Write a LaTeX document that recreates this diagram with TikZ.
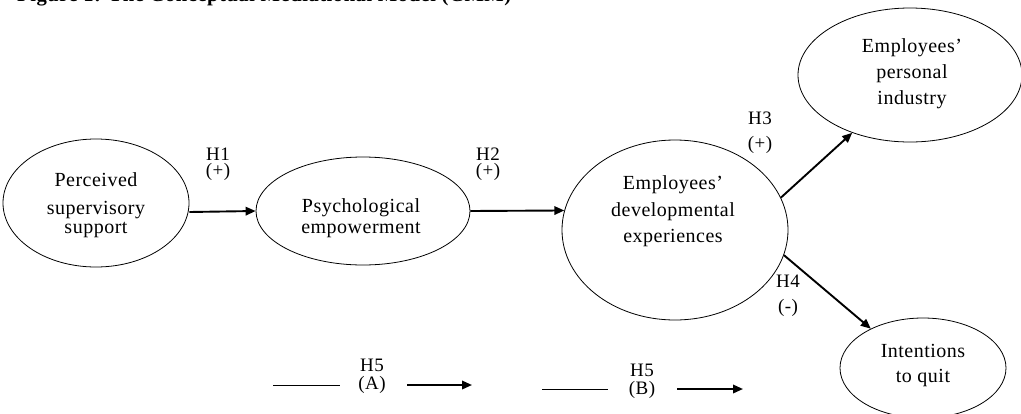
\documentclass[tikz,border=0pt]{standalone}
\usepackage{fontspec}
\setmainfont{Liberation Serif}[LetterSpace=2.5]
\usetikzlibrary{shapes.geometric,arrows.meta}
\newcommand\myfs[2]{\fontsize{#1}{#2}\selectfont\lineskiplimit=-100pt\relax}
\begin{document}
\begin{tikzpicture}[x=1pt,y=-1pt,
  ell/.style={draw,ellipse,line width=0.8pt,inner sep=0pt},
  txt/.style={align=center,font=\myfs{20}{26}},
  lab/.style={align=center,font=\myfs{19}{#1}},
  arr/.style={line width=1.9pt,-{Triangle[length=10pt,width=8.5pt]}},
  plainline/.style={line width=0.8pt}]
\useasboundingbox (0,0) rectangle (1021,413);
\fill[white] (0,0) rectangle (1021,413);
\clip (0,0) rectangle (1021,413);

\node[anchor=base west,inner sep=0pt,font=\myfs{20.6}{24}\bfseries] (title) at (17,1.5) {Figure 1: The Conceptual Mediational Model (CMM)};

% ellipses
\node[ell,minimum width=186pt,minimum height=128pt] (e1) at (96,203) {};
\node[ell,minimum width=214pt,minimum height=108pt] (e2) at (363,211) {};
\node[ell,minimum width=226pt,minimum height=180pt] (e3) at (675,230) {};
\node[ell,minimum width=224pt,minimum height=134pt] (e4) at (910,75) {};
\node[ell,minimum width=166pt,minimum height=100pt] (e5) at (923,368) {};

% texts
\node[txt] (t1) at (96,205) {Perceived\\[2pt]supervisory\\[-7pt]support};
\node[txt] (t2) at (361,218) {Psychological\\[-5pt]empowerment};
\node[txt] (t3) at (673,211.5) {Employees'\\[0.5pt]developmental\\[0.5pt]experiences};
\node[txt] (t4) at (912,73.5) {Employees'\\personal\\industry};
\node[txt] (t5) at (923,366) {Intentions\\[-1pt]to quit};

% labels
\node[lab=16] (h1) at (218,164) {H1\\(+)};
\node[lab=16] (h2) at (488,164) {H2\\(+)};
\node[lab=25] (h3) at (760,133) {H3\\(+)};
\node[lab=25] (h4) at (788,296) {H4\\(-)};
\node[lab=18] (h5a) at (372,376.5) {H5\\(A)};
\node[lab=18] (h5b) at (642,381.5) {H5\\(B)};

% connectors
\draw[arr] ([yshift=-9pt]e1.east) -- (e2.west);
\draw[arr] (e2.east) -- (e3.170);
\draw[arr] (e3.17) -- (e4.225);
\draw[arr] (e3.-13) -- (e5.143);

% legend
\coordinate (a1) at (273,385);
\coordinate (a2) at (340,385);
\coordinate (a3) at (407,385);
\coordinate (a4) at (472,385);
\coordinate (b1) at (542,389);
\coordinate (b2) at (608,389);
\coordinate (b3) at (677,389);
\coordinate (b4) at (743,389);
\draw[plainline] (a1) -- (a2);
\draw[arr] (a3) -- (a4);
\draw[plainline] (b1) -- (b2);
\draw[arr] (b3) -- (b4);
\end{tikzpicture}
\end{document}
